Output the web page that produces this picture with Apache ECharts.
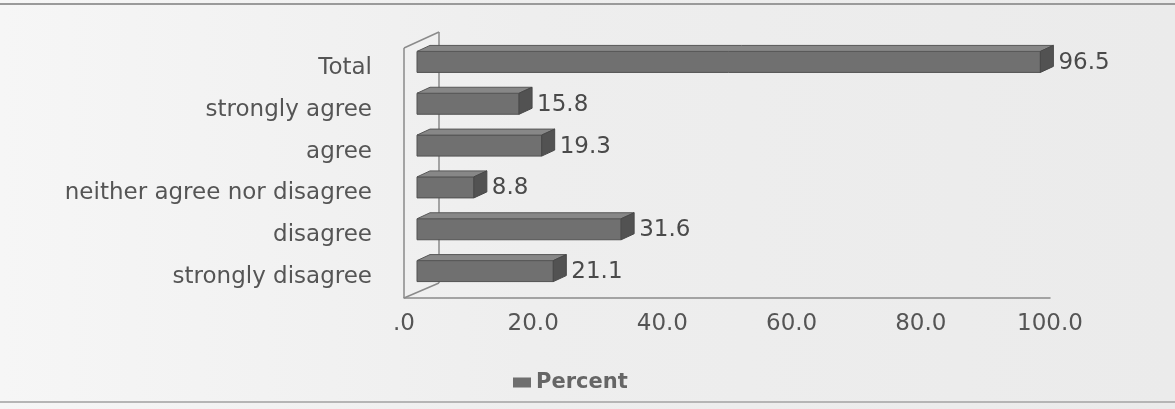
<!DOCTYPE html>
<html>
<head>
<meta charset="utf-8">
<script src="https://cdn.jsdelivr.net/npm/echarts@6/dist/echarts.min.js"></script>
<style>
html,body{margin:0;padding:0;background:#ededed;}
#chart{width:1175px;height:409px;}
</style>
</head>
<body>
<div id="chart"></div>
<script>
const categories = ['Total', 'strongly agree', 'agree', 'neither agree nor disagree', 'disagree', 'strongly disagree'];
const percent = [96.5, 15.8, 19.3, 8.8, 31.6, 21.1];
const xTickValues = [0, 20, 40, 60, 80, 100];
const seriesName = 'Percent';

const DX = 13, DY = -6, H = 21;
const chart = echarts.init(document.getElementById('chart'), null, {renderer: 'canvas'});

function renderBar(params, api) {
  const v = api.value(0), c = api.value(1);
  const p0 = api.coord([0, c]);
  const p1 = api.coord([v, c]);
  const fx0 = p0[0] + DX, fx1 = p1[0] + DX, cy = p0[1] + DY;
  const top = cy - H / 2, bot = cy + H / 2;
  return {
    type: 'group',
    children: [
      {type: 'rect', shape: {x: fx0, y: top, width: fx1 - fx0, height: H},
       style: {fill: '#707070', stroke: '#525252', lineWidth: 1}},
      {type: 'polygon', shape: {points: [[fx0, top], [fx1, top], [fx1 + DX, top + DY], [fx0 + DX, top + DY]]},
       style: {fill: '#878787', stroke: '#575757', lineWidth: 1}},
      {type: 'polygon', shape: {points: [[fx1, top], [fx1 + DX, top + DY], [fx1 + DX, bot + DY], [fx1, bot]]},
       style: {fill: '#525252', stroke: '#484848', lineWidth: 1}},
      {type: 'text', style: {x: fx1 + DX + 5, y: cy + 1, text: v.toFixed(1),
        fill: '#4a4a4a', font: '23px "DejaVu Sans"', textAlign: 'left', textVerticalAlign: 'middle'}}
    ]
  };
}

chart.setOption({
  backgroundColor: {
    type: 'linear', x: 0, y: 0, x2: 1, y2: 0,
    colorStops: [{offset: 0, color: '#f6f6f6'}, {offset: 0.45, color: '#eeeeee'}, {offset: 1, color: '#ebebeb'}]
  },
  animation: false,
  grid: {left: 404, right: 125, top: 47, bottom: 111, containLabel: false},
  legend: {
    data: [seriesName], left: 508, top: 367, icon: 'rect', itemWidth: 18, itemHeight: 10, itemGap: 8,
    textStyle: {color: '#666', fontSize: 21, fontWeight: 'bold', fontFamily: 'DejaVu Sans'}
  },
  xAxis: {
    type: 'value', min: 0, max: 100, interval: 20,
    axisLine: {show: true, lineStyle: {color: '#8a8a8a', width: 1.5}},
    axisTick: {show: false}, splitLine: {show: false},
    axisLabel: {
      color: '#555', fontSize: 23, fontFamily: 'DejaVu Sans', margin: 15,
      customValues: xTickValues,
      formatter: function (v) { return v === 0 ? '.0' : v.toFixed(1); }
    }
  },
  yAxis: {
    type: 'category', data: categories, inverse: true,
    axisLine: {show: false}, axisTick: {show: false}, splitLine: {show: false},
    axisLabel: {color: '#555', fontSize: 23, fontFamily: 'DejaVu Sans', margin: 32}
  },
  series: [{
    name: seriesName, type: 'custom', renderItem: renderBar,
    itemStyle: {color: '#6f6f6f'},
    encode: {x: 0, y: 1},
    data: percent.map((v, i) => [v, i]),
    z: 5
  }]
});

// walls drawn from the grid's own coordinates
const rect = chart.getModel().getComponent('grid', 0).coordinateSystem.getRect();
const x0 = rect.x, yB = rect.y + rect.height, yT = rect.y;
const WX = 35, WY = -15;
chart.setOption({
  graphic: [
    {type: 'line', z: 1, shape: {x1: x0, y1: yB, x2: x0, y2: yT + 1}, style: {stroke: '#8a8a8a', lineWidth: 1.5}},
    {type: 'line', z: 1, shape: {x1: x0 + WX, y1: yB + WY, x2: x0 + WX, y2: yT + WY}, style: {stroke: '#8a8a8a', lineWidth: 1.5}},
    {type: 'line', z: 1, shape: {x1: x0, y1: yT + 1, x2: x0 + WX, y2: yT + WY}, style: {stroke: '#8a8a8a', lineWidth: 1.5}},
    {type: 'line', z: 1, shape: {x1: x0, y1: yB, x2: x0 + WX, y2: yB + WY}, style: {stroke: '#8a8a8a', lineWidth: 1.5}},
    {type: 'line', z: 1, shape: {x1: 0, y1: 4, x2: 1175, y2: 4}, style: {stroke: '#9a9a9a', lineWidth: 2}},
    {type: 'line', z: 1, shape: {x1: 0, y1: 402, x2: 1175, y2: 402}, style: {stroke: '#b5b5b5', lineWidth: 2}}
  ]
});
</script>
</body>
</html>
